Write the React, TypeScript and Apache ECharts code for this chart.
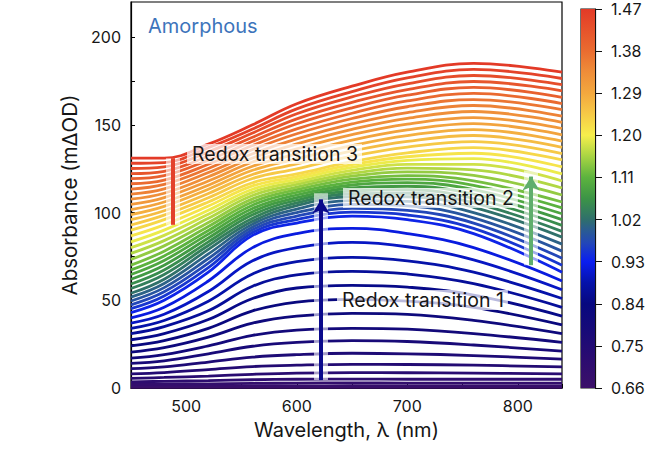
import React, { useEffect, useRef } from 'react';
import * as echarts from 'echarts';

const WAVELENGTHS = [450, 480, 520, 560, 600, 650, 700, 760, 840];

// Applied potential of each spectrum (V), lowest first
const POTENTIALS = [
  0.66, 0.677, 0.694, 0.712, 0.729, 0.746, 0.763, 0.781, 0.798, 0.815, 0.832, 0.85,
  0.867, 0.884, 0.901, 0.919, 0.936, 0.953, 0.97, 0.987, 1.005, 1.022, 1.039, 1.056,
  1.074, 1.091, 1.108, 1.125, 1.143, 1.16, 1.177, 1.194, 1.212, 1.229, 1.246, 1.263,
  1.281, 1.298, 1.315, 1.332, 1.35, 1.367, 1.384, 1.401, 1.419, 1.436, 1.453, 1.47,
];

// Absorbance (mΔOD) of each spectrum at WAVELENGTHS
const ABSORBANCE = [
  [0.3, 0.3, 0.3, 0.3, 0.3, 0.3, 0.3, 0.3, 0.3],
  [1, 1.1, 1.1, 1.2, 1.2, 1.3, 1.2, 1.2, 1.2],
  [2, 2.2, 2.4, 2.6, 2.8, 2.9, 2.8, 2.8, 2.8],
  [3.5, 3.8, 4.2, 4.7, 5, 5.1, 5, 5, 5],
  [5.5, 6, 6.8, 7.8, 8.5, 8.8, 8.7, 8.5, 8],
  [8, 8.8, 10.5, 12.2, 13, 13.5, 13.4, 13, 12],
  [11, 12, 14.8, 17.6, 19, 19.8, 19.5, 18.5, 16.5],
  [14, 15.5, 19.5, 23.8, 26, 27, 26.5, 24.5, 21],
  [17, 19, 24, 30, 33, 34, 33.5, 31, 26],
  [20.5, 23, 29, 37, 41, 42.5, 42, 38.5, 31],
  [24, 27, 34, 44, 49, 50.5, 49.5, 46, 36],
  [27.5, 31, 39, 51, 57, 58.5, 57.5, 53, 41],
  [31, 35, 44, 58, 64.5, 66.5, 65, 59.5, 46],
  [34, 38.5, 49.5, 65, 72, 74.5, 72.5, 66, 51],
  [37, 42, 55, 72.5, 80, 83, 80.5, 73, 56],
  [40, 46, 61, 80, 88, 91, 88, 80, 61],
  [43, 50, 66, 87, 94, 98, 96, 88, 66],
  [45.2, 52.4, 68.6, 88.6, 96, 100.2, 98.6, 91, 70],
  [47.4, 54.8, 71.2, 90.2, 98, 102.4, 101.2, 94, 74],
  [49.6, 57.2, 73.8, 91.8, 100, 104.6, 103.8, 97, 78],
  [51.8, 59.6, 76.4, 93.4, 102, 106.8, 106.4, 100, 82],
  [54, 62, 79, 95, 104, 109, 109, 103, 86],
  [56.7, 64.7, 81.2, 96.8, 105.5, 110.7, 111, 105.5, 89.3],
  [59.3, 67.3, 83.3, 98.7, 107, 112.3, 113, 108, 92.7],
  [62, 70, 85.5, 100.5, 108.5, 114, 115, 110.5, 96],
  [64.7, 72.7, 87.7, 102.3, 110, 115.7, 117, 113, 99.3],
  [67.3, 75.3, 89.8, 104.2, 111.5, 117.3, 119, 115.5, 102.7],
  [70, 78, 92, 106, 113, 119, 121, 118, 106],
  [73.3, 81, 94.3, 107.8, 114.5, 120.7, 123.2, 121.2, 110],
  [76.7, 84, 96.7, 109.7, 116, 122.3, 125.3, 124.3, 114],
  [80, 87, 99, 111.5, 117.5, 124, 127.5, 127.5, 118],
  [83.3, 90, 101.3, 113.3, 119, 125.7, 129.7, 130.7, 122],
  [86.7, 93, 103.7, 115.2, 120.5, 127.3, 131.8, 133.8, 126],
  [90, 96, 106, 117, 122, 129, 134, 137, 130],
  [92.9, 98.5, 108.4, 119.4, 124.9, 132.1, 137.3, 140.4, 133.6],
  [95.9, 101, 110.9, 121.7, 127.7, 135.1, 140.6, 143.9, 137.1],
  [98.8, 103.5, 113.3, 124.1, 130.6, 138.2, 143.9, 147.3, 140.7],
  [101.7, 106, 115.6, 126.4, 133.4, 141.3, 147.1, 150.7, 144.3],
  [104.6, 108.5, 118, 128.8, 136.3, 144.4, 150.4, 154.1, 147.9],
  [107.6, 111, 120.4, 131.1, 139.1, 147.4, 153.7, 157.6, 151.4],
  [110.5, 113.5, 122.8, 133.5, 142, 150.5, 157, 161, 155],
  [113.4, 116, 125.1, 135.9, 144.9, 153.6, 160.3, 164.4, 158.6],
  [116.4, 118.5, 127.5, 138.2, 147.7, 156.6, 163.6, 167.9, 162.1],
  [119.3, 121, 129.9, 140.6, 150.6, 159.7, 166.9, 171.3, 165.7],
  [122.2, 123.5, 132.2, 142.9, 153.4, 162.8, 170.1, 174.7, 169.3],
  [125.1, 126, 134.6, 145.3, 156.3, 165.9, 173.4, 178.1, 172.9],
  [128.1, 128.5, 137, 147.6, 159.1, 168.9, 176.7, 181.6, 176.4],
  [131, 131, 139, 150, 162, 172, 180, 185, 180],
];

const COLORBAR_LABELS = ['0.66', '0.75', '0.84', '0.93', '1.02', '1.11', '1.20', '1.29', '1.38', '1.47'];

// Annotation arrows (data coordinates)
const ARROW_X = [622, 812, 487.5];
const ARROW_FROM = [4.5, 70, 93];
const ARROW_TO = [107.5, 120.5, 131];
const ARROW_COLORS = ['#0b0a8c', '#5fae6c', '#e3412b'];
const ARROW_HEAD = [true, true, false];

// Colour map (potential → colour)
const CMAP: [number, string][] = [
  [0.66, '#3c1069'],
  [0.72, '#2c0c70'],
  [0.78, '#180a78'],
  [0.84, '#07087f'],
  [0.885, '#0512aa'],
  [0.93, '#0a1ef0'],
  [0.97, '#2347b8'],
  [1.0, '#2b5e8e'],
  [1.02, '#2f6f6c'],
  [1.065, '#3c9446'],
  [1.11, '#5cb33e'],
  [1.155, '#a8d443'],
  [1.2, '#f6ee4c'],
  [1.25, '#f6c646'],
  [1.29, '#f3a83e'],
  [1.34, '#ee8a38'],
  [1.38, '#ea6c30'],
  [1.47, '#e33a27'],
];

const FONT = 'Inter, "Noto Sans", sans-serif';
const TEXT = '#161616';

function hexToRgb(h: string): number[] {
  const n = parseInt(h.slice(1), 16);
  return [(n >> 16) & 255, (n >> 8) & 255, n & 255];
}

function cmap(p: number): string {
  if (p <= CMAP[0][0]) return CMAP[0][1];
  for (let k = 1; k < CMAP.length; k++) {
    if (p <= CMAP[k][0]) {
      const [p0, c0] = CMAP[k - 1];
      const [p1, c1] = CMAP[k];
      const t = (p - p0) / (p1 - p0);
      const a = hexToRgb(c0);
      const b = hexToRgb(c1);
      const m = a.map((v, j) => Math.round(v + (b[j] - v) * t));
      return `rgb(${m[0]},${m[1]},${m[2]})`;
    }
  }
  return CMAP[CMAP.length - 1][1];
}

export default function App() {
  const ref = useRef<HTMLDivElement>(null);

  useEffect(() => {
    const chart = echarts.init(ref.current!, null, { renderer: 'svg' });

    const curves = ABSORBANCE.map((row, i) => ({
      type: 'line',
      xAxisIndex: 0,
      yAxisIndex: 0,
      data: row.map((v, k) => [WAVELENGTHS[k], v]),
      showSymbol: false,
      symbol: 'none',
      smooth: 0.4,
      silent: true,
      z: 2,
      lineStyle: { color: cmap(POTENTIALS[i]), width: 2.8 },
    }));

    const arrows: any[] = [];
    ARROW_X.forEach((x, i) => {
      arrows.push({
        type: 'line',
        xAxisIndex: 0,
        yAxisIndex: 0,
        data: [],
        silent: true,
        z: 4,
        markLine: {
          silent: true,
          animation: false,
          symbol: ['none', 'none'],
          label: { show: false },
          lineStyle: { color: 'rgba(255,255,255,0.6)', width: 14, type: 'solid' },
          data: [[{ coord: [x, ARROW_FROM[i]] }, { coord: [x, ARROW_TO[i] + (ARROW_HEAD[i] ? 3.5 : 0)] }]],
        },
      });
      arrows.push({
        type: 'line',
        xAxisIndex: 0,
        yAxisIndex: 0,
        data: [],
        silent: true,
        z: 5,
        markLine: {
          silent: true,
          animation: false,
          symbol: ['none', ARROW_HEAD[i] ? 'arrow' : 'none'],
          symbolSize: [13, 14],
          label: { show: false },
          lineStyle: { color: ARROW_COLORS[i], width: 4, type: 'solid', opacity: 1 },
          data: [[{ coord: [x, ARROW_FROM[i]] }, { coord: [x, ARROW_TO[i]] }]],
        },
      });
    });

    const gradient = new echarts.graphic.LinearGradient(
      0, 1, 0, 0,
      CMAP.map(([p, c]) => ({ offset: (p - 0.66) / 0.81, color: c }))
    );

    const labelBox = (text: string, left: number, top: number) => ({
      type: 'text',
      left,
      top,
      z: 100,
      style: {
        text,
        font: `19.5px ${FONT}`,
        fill: TEXT,
        backgroundColor: 'rgba(255,255,255,0.72)',
        padding: [0, 4, 0, 5],
      },
    });

    chart.setOption({
      animation: false,
      grid: [
        { left: 131, top: 2, width: 431, height: 386, show: true, borderColor: '#000', borderWidth: 1.2, backgroundColor: 'transparent' },
        { left: 581, top: 9, width: 14, height: 379, show: true, borderColor: '#111', borderWidth: 1.2 },
      ],
      xAxis: [
        {
          type: 'value',
          gridIndex: 0,
          min: 450,
          max: 840,
          interval: 50,
          name: 'Wavelength, λ (nm)',
          nameLocation: 'middle',
          nameGap: 32,
          nameTextStyle: { fontFamily: FONT, fontSize: 20, color: TEXT },
          axisLine: { show: true, lineStyle: { color: '#000', width: 1.2 } },
          axisTick: { show: true, inside: true, length: 4, lineStyle: { color: '#000' } },
          axisLabel: {
            margin: 10,
            fontFamily: FONT,
            fontSize: 16,
            color: TEXT,
            formatter: (v: number) => (v % 100 === 0 ? String(v) : ''),
          },
          splitLine: { show: false },
        },
        { type: 'category', gridIndex: 1, data: ['bar'], show: false },
      ],
      yAxis: [
        {
          type: 'value',
          gridIndex: 0,
          min: 0,
          max: 220,
          interval: 25,
          name: 'Absorbance (mΔOD)',
          nameLocation: 'middle',
          nameGap: 50,
          nameTextStyle: { fontFamily: FONT, fontSize: 20.5, color: TEXT },
          axisLine: { show: true, lineStyle: { color: '#000', width: 1.2 } },
          axisTick: { show: true, inside: true, length: 4, lineStyle: { color: '#000' } },
          axisLabel: {
            margin: 10,
            fontFamily: FONT,
            fontSize: 16,
            color: TEXT,
            showMaxLabel: false,
            formatter: (v: number) => (v % 50 === 0 && v <= 200 ? String(v) : ''),
          },
          splitLine: { show: false },
        },
        {
          type: 'value',
          gridIndex: 1,
          position: 'right',
          min: 0,
          max: 9,
          interval: 1,
          axisLine: { show: true, lineStyle: { color: '#111', width: 1.2 } },
          axisTick: { show: true, inside: false, length: 7, lineStyle: { color: '#111' } },
          axisLabel: {
            margin: 16,
            fontFamily: FONT,
            fontSize: 16,
            lineHeight: 16,
            color: TEXT,
            formatter: (v: number) => COLORBAR_LABELS[Math.round(v)] ?? '',
          },
          splitLine: { show: false },
        },
      ],
      series: [
        ...curves,
        ...arrows,
        {
          type: 'bar',
          xAxisIndex: 1,
          yAxisIndex: 1,
          data: [9],
          barWidth: '100%',
          silent: true,
          itemStyle: { color: gradient },
        },
      ],
      graphic: [
        {
          type: 'text',
          left: 148,
          top: 16,
          z: 100,
          style: { text: 'Amorphous', font: `20px ${FONT}`, fill: '#3d74bb' },
        },
        labelBox('Redox transition 3', 187, 144),
        labelBox('Redox transition 2', 343, 188),
        labelBox('Redox transition 1', 337, 290),
      ],
    });

    return () => chart.dispose();
  }, []);

  return <div ref={ref} style={{ position: 'absolute', left: 0, top: 0, width: 656, height: 449 }} />;
}
